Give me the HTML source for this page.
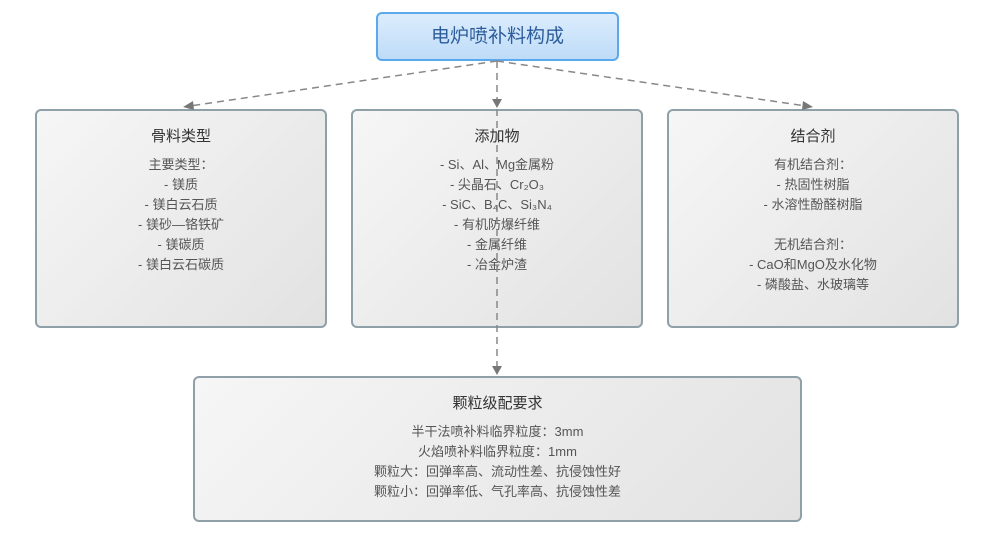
<!DOCTYPE html>
<html><head><meta charset="utf-8"><style>
body{margin:0;width:1000px;height:553px;background:#fff;position:relative;overflow:hidden;font-family:"Liberation Sans","Noto Sans CJK SC",sans-serif;}
.box{position:absolute;box-sizing:border-box;border:2px solid #8fa0a8;border-radius:6px;background:linear-gradient(135deg,#f6f6f6,#e2e2e2);text-align:center;color:#555;font-size:13px;line-height:20px;}
.box h3{margin:0;font-size:15px;font-weight:normal;color:#333;line-height:20px;padding-top:16px;padding-bottom:8px;}
.top{position:absolute;left:376px;top:12px;width:243px;height:49px;box-sizing:border-box;border:2px solid #5aa9ec;border-radius:6px;background:linear-gradient(180deg,#dcecfd,#bedcf8);color:#2d5d9a;font-size:19px;text-align:center;line-height:45px;}
svg{position:absolute;left:0;top:0;}
</style></head><body>
<div class="top">电炉喷补料构成</div>
<div class="box" style="left:35px;top:109px;width:292px;height:219px"><h3>骨料类型</h3>主要类型：<br>- 镁质<br>- 镁白云石质<br>- 镁砂—铬铁矿<br>- 镁碳质<br>- 镁白云石碳质</div>
<div class="box" style="left:351px;top:109px;width:292px;height:219px"><h3>添加物</h3>- Si、Al、Mg金属粉<br>- 尖晶石、Cr₂O₃<br>- SiC、B₄C、Si₃N₄<br>- 有机防爆纤维<br>- 金属纤维<br>- 冶金炉渣</div>
<div class="box" style="left:667px;top:109px;width:292px;height:219px"><h3>结合剂</h3>有机结合剂：<br>- 热固性树脂<br>- 水溶性酚醛树脂<br><br>无机结合剂：<br>- CaO和MgO及水化物<br>- 磷酸盐、水玻璃等</div>
<div class="box" style="left:193px;top:376px;width:609px;height:146px"><h3>颗粒级配要求</h3>半干法喷补料临界粒度：3mm<br>火焰喷补料临界粒度：1mm<br>颗粒大：回弹率高、流动性差、抗侵蚀性好<br>颗粒小：回弹率低、气孔率高、抗侵蚀性差</div>
<svg width="1000" height="553">
<g stroke="#888" stroke-width="1.5" stroke-dasharray="7,5" fill="none">
<line x1="497" y1="61" x2="190" y2="106"/>
<line x1="497" y1="61" x2="806" y2="106"/>
<line x1="497" y1="61" x2="497" y2="368"/>
</g>
<g fill="#777">
<polygon points="183,107 193,101 194,110"/>
<polygon points="813,107 803,101 802,110"/>
<polygon points="497,108 492,99 502,99"/>
<polygon points="497,375 492,366 502,366"/>
</g>
</svg>
</body></html>
